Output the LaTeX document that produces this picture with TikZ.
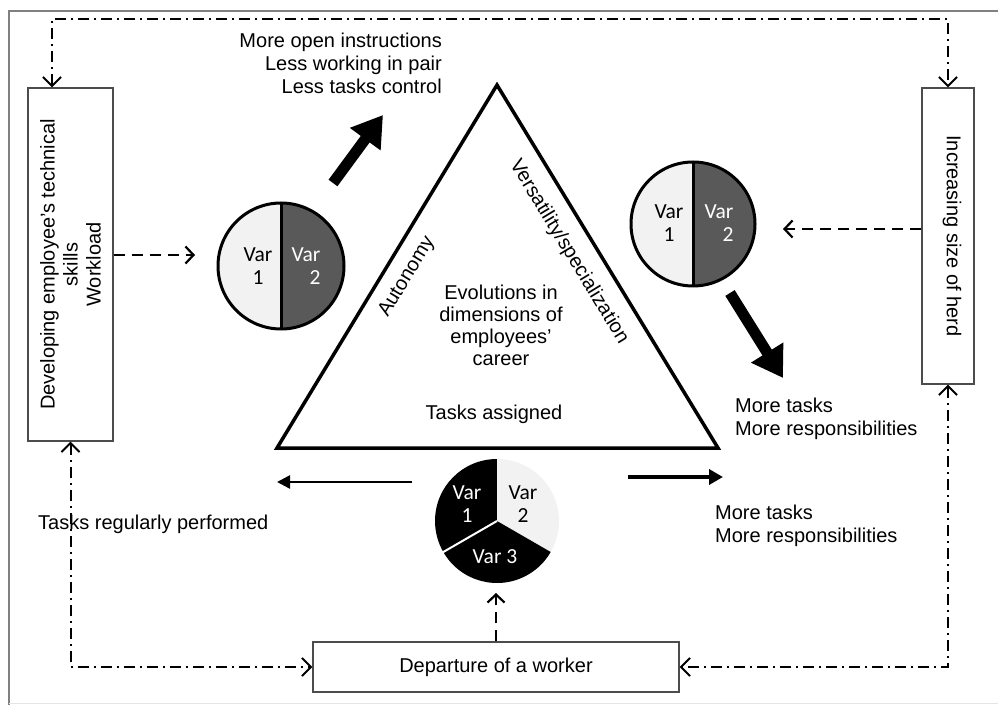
\documentclass[tikz,border=0pt]{standalone}
\usepackage{xcolor}
\usepackage{fontspec}
\setmainfont{Liberation Sans}
\newfontfamily\piefont{Carlito}
\usepackage{tikz}
\usetikzlibrary{arrows.meta, positioning, calc}
\definecolor{pielight}{HTML}{F2F2F2}
\definecolor{piedark}{HTML}{595959}
\tikzstyle{sidebox} = [rectangle, draw=black!70, line width=1.3pt, inner sep=0pt]
\tikzstyle{lbl} = [font=\fontsize{20}{23}\selectfont, inner sep=0pt]
\tikzstyle{pietxt} = [font=\piefont\fontsize{21.5}{23}\selectfont, inner sep=0pt, align=center]
\tikzstyle{pienode} = [circle, inner sep=0pt, minimum size=124pt]
\tikzstyle{dashdotarrow} = [line width=2pt, dash pattern=on 11pt off 5pt on 2pt off 5pt, {Straight Barb[length=9pt,width=18pt,line width=2pt]}-{Straight Barb[length=9pt,width=18pt,line width=2pt]}]
\tikzstyle{dasharrow} = [line width=2.8pt, dash pattern=on 11pt off 7pt, -{Straight Barb[length=8pt,width=17pt,line width=2.2pt]}]
\tikzstyle{bigarrow} = [line width=11pt, -{Triangle[length=30pt,width=36pt]}]

\begin{document}
\begin{tikzpicture}[x=1pt, y=1pt]
    \useasboundingbox (0,0) rectangle (998,705);
    % Frame
    \draw[black!50, line width=2.5pt] (9,0) -- (9,694) -- (998,694);
    \draw[black!10, line width=1pt] (9,2) -- (998,2);

    % Side boxes
    \node[sidebox, minimum width=85pt, minimum height=353pt] (devbox) at (70.5,440.5) {};
    \node[lbl, rotate=90, align=center] (devtxt) at (devbox.center) {Developing employee’s technical\\skills\\Workload};
    \node[sidebox, minimum width=52pt, minimum height=296pt] (herdbox) at (948,469) {};
    \node[lbl, rotate=-90] (herdtxt) at ([xshift=4pt]herdbox.center) {Increasing size of herd};
    \node[sidebox, minimum width=366pt, minimum height=50pt] (departbox) at (496,38) {};
    \node[lbl] (departtxt) at (departbox.center) {Departure of a worker};

    % Triangle
    \coordinate (apex) at (497,620);
    \coordinate (bl) at (277,257);
    \coordinate (br) at (718,257);
    \draw[line width=3.5pt, line join=miter] (apex) -- (bl) -- (br) -- cycle;
    \node[lbl, rotate=58.8] (autonomy) at (407,428) {Autonomy};
    \node[lbl, rotate=-58.7] (versa) at (569,453) {Versatility/specialization};
    \node[lbl, align=center, font=\fontsize{20}{22}\selectfont] (evol) at (501,380) {Evolutions in\\dimensions of\\employees’\\career};
    \node[lbl] (assigned) at (494,291) {Tasks assigned};

    % Pie charts
    \node[pienode] (pieL) at (281,439) {};
    \fill[pielight] (pieL.center) -- ++(90:63) arc (90:270:63) -- cycle;
    \fill[piedark] (pieL.center) -- ++(-90:63) arc (-90:90:63) -- cycle;
    \draw[line width=3pt] (pieL.center) circle (63);
    \draw[line width=3pt] ([yshift=63pt]pieL.center) -- ([yshift=-63pt]pieL.center);
    \node[pietxt] (pieLa) at (258,439) {Var\\1};
    \node[pietxt, text=white, align=right] (pieLb) at (306,439) {Var\\2};

    \node[pienode] (pieR) at (693,481) {};
    \fill[pielight] (pieR.center) -- ++(90:62) arc (90:270:62) -- cycle;
    \fill[piedark] (pieR.center) -- ++(-90:62) arc (-90:90:62) -- cycle;
    \draw[line width=3pt] (pieR.center) circle (62);
    \draw[line width=3pt] ([yshift=62pt]pieR.center) -- ([yshift=-62pt]pieR.center);
    \node[pietxt] (pieRa) at (669,482) {Var\\1};
    \node[pietxt, text=white, align=right] (pieRb) at (719,482) {Var\\2};

    \node[pienode] (pieB) at (497,184) {};
    \fill[black] (pieB.center) -- ++(90:62) arc (90:210:62) -- cycle;
    \fill[pielight] (pieB.center) -- ++(-30:62) arc (-30:90:62) -- cycle;
    \fill[black] (pieB.center) -- ++(210:62) arc (210:330:62) -- cycle;
    \draw[white, line width=2pt] (pieB.center) -- ++(210:63);
    \node[pietxt, text=white] (pieBa) at (467,201) {Var\\1};
    \node[pietxt] (pieBb) at (523,201) {Var\\2};
    \node[pietxt, text=white] (pieBc) at (495,148) {Var 3};

    % Labels
    \node[lbl, anchor=east, align=right] (opentxt) at (442,642) {More open instructions\\Less working in pair\\Less tasks control};
    \node[lbl, anchor=west, align=left] (moreA) at (735,286) {More tasks\\More responsibilities};
    \node[lbl, anchor=west, align=left] (moreB) at (715,179.5) {More tasks\\More responsibilities};
    \node[lbl, anchor=west] (regtxt) at (38,181) {Tasks regularly performed};

    % Loose arrow ends
    \coordinate (tl) at (52,686);
    \coordinate (ltip) at (195,450);
    \coordinate (rtip) at (783,476);
    \coordinate (btip) at (497,112);
    \coordinate (upA) at (333,522);
    \coordinate (upB) at (383,590);
    \coordinate (downA) at (730,412);
    \coordinate (downB) at (783,327);
    \coordinate (hlA) at (412,223);
    \coordinate (hlB) at (277,223);
    \coordinate (hrA) at (628,228);
    \coordinate (hrB) at (723,228);

    % Connections
    \draw[dashdotarrow] (devbox.north -| tl) |- (herdbox.north |- tl) -- (herdbox.north);
    \draw[dashdotarrow] (devbox.south) |- (departbox.west);
    \draw[dashdotarrow] (herdbox.south) |- (departbox.east);
    \draw[dasharrow] (devbox.east |- ltip) -- (ltip);
    \draw[dasharrow] (herdbox.west |- rtip) -- (rtip);
    \draw[dasharrow] (departbox.north) -- (departbox.north |- btip);
    \draw[bigarrow] (upA) -- (upB);
    \draw[bigarrow] (downA) -- (downB);
    \draw[line width=2.5pt, -{Triangle[length=13pt,width=13pt]}] (hlA) -- (hlB);
    \draw[line width=4pt, -{Triangle[length=14pt,width=15pt]}] (hrA) -- (hrB);

\end{tikzpicture}
\end{document}
